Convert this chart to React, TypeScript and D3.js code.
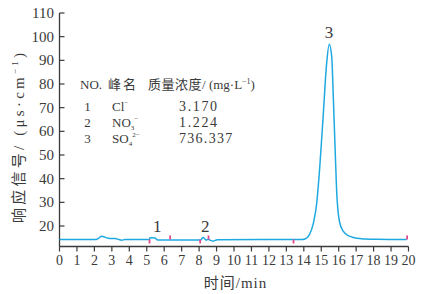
import React from "react";
import * as d3 from "d3";

const xTicks = d3.range(0, 21);
const yTicks = [20, 30, 40, 50, 60, 70, 80, 90, 100, 110];

const traceTime = [0, 2.1, 2.25, 2.42, 2.6, 2.8, 3.0, 3.2, 3.4, 3.56, 3.75, 5.15, 5.19, 5.3, 5.47, 5.62, 5.8, 8.1, 8.15, 8.24, 8.32, 8.4, 8.53, 8.65, 8.8, 9.04, 13.9, 14.07, 14.3, 14.55, 14.74, 14.93, 15.12, 15.31, 15.46, 15.6, 15.69, 15.79, 15.88, 16.04, 16.26, 16.46, 16.65, 17.03, 17.5, 18.2, 19.9];
const traceValue = [14.3, 14.3, 14.9, 15.7, 15.3, 14.8, 14.7, 14.7, 14.3, 14.0, 14.3, 14.3, 15.0, 15.0, 14.9, 14.1, 14.1, 14.1, 14.6, 15.1, 14.6, 14.0, 14.4, 13.9, 13.6, 14.2, 14.3, 14.5, 16.0, 21.2, 29.6, 46.5, 67.6, 88.8, 96.8, 91.5, 74.6, 53.5, 35.2, 22.0, 17.8, 16.3, 15.6, 14.8, 14.5, 14.35, 14.3];

const markerTimes = [5.16, 6.34, 8.06, 8.54, 13.41, 19.92];
const markerSides = ["below", "above", "below", "above", "below", "above"];

const peakLabels = ["1", "2", "3"];
const peakLabelTimes = [5.6, 8.35, 15.45];
const peakLabelValues = [15.0, 15.1, 96.8];

const tableNo = ["1", "2", "3"];
const tableIon = ["Cl", "NO", "SO"];
const tableSub = ["", "3", "4"];
const tableSup = ["−", "−", "2−"];
const tableConc = ["3.170", "1.224", "736.337"];

const LINE = "#1fa9e1";
const MARK = "#e5488c";
const AXIS = "#3a3a3a";
const TEXT = "#3a3a3a";
const SERIF = "'Liberation Serif', 'DejaVu Serif', serif";
const CJK = "'Noto Sans CJK SC', sans-serif";

export default function App() {
  const x = d3.scaleLinear().domain([0, 20]).range([59.5, 408.5]);
  const y = d3.scaleLinear().domain([20, 110]).range([226, 13]);
  const axisY = 246.5;
  const baseY = y(14.3);

  const line = d3
    .line<number>()
    .x((_, i) => x(traceTime[i]))
    .y((v) => y(v))
    .curve(d3.curveMonotoneX);

  return (
    <svg width={424} height={294} style={{ position: "absolute", left: 0, top: 0, background: "#fff" }}>
      {/* axes */}
      <line x1={x(0)} x2={x(0)} y1={y(110)} y2={axisY} stroke={AXIS} strokeWidth={1.3} />
      <line x1={x(0)} x2={x(20)} y1={axisY} y2={axisY} stroke={AXIS} strokeWidth={1.3} />
      {yTicks.map((t) => (
        <g key={"y" + t}>
          <line x1={x(0)} x2={x(0) + 5} y1={y(t)} y2={y(t)} stroke={AXIS} strokeWidth={1.2} />
          <text x={54} y={y(t) + 5} textAnchor="end" fontFamily={SERIF} fontSize={15} fill={TEXT}>
            {t}
          </text>
        </g>
      ))}
      {xTicks.map((t) => (
        <g key={"x" + t}>
          <line x1={x(t)} x2={x(t)} y1={axisY} y2={axisY + 5} stroke={AXIS} strokeWidth={1.2} />
          <text x={x(t)} y={264.5} textAnchor="middle" fontFamily={SERIF} fontSize={14} fill={TEXT}>
            {t}
          </text>
        </g>
      ))}
      {/* axis titles */}
      <text x={235.5} y={288} textAnchor="middle" fontSize={15} fill={TEXT} letterSpacing={1}>
        <tspan fontFamily={CJK}>时间</tspan>
        <tspan fontFamily={SERIF}>/min</tspan>
      </text>
      <text
        transform="translate(24,138) rotate(-90)"
        textAnchor="middle"
        fontSize={15}
        fill={TEXT}
        textLength={170}
        lengthAdjust="spacing"
      >
        <tspan fontFamily={CJK}>响应信号</tspan>
        <tspan fontFamily={SERIF}>/ (μs·cm</tspan>
        <tspan fontFamily={SERIF} fontSize={9} dy={-6}>−1</tspan>
        <tspan fontFamily={SERIF} dy={6}>)</tspan>
      </text>

      {/* trace */}
      <path d={line(traceValue) || ""} fill="none" stroke={LINE} strokeWidth={1.5} />

      {/* integration markers */}
      {markerTimes.map((t, i) => (
        <line
          key={"m" + i}
          x1={x(t)}
          x2={x(t)}
          y1={markerSides[i] === "below" ? baseY : baseY - 4}
          y2={markerSides[i] === "below" ? baseY + 4 : baseY}
          stroke={MARK}
          strokeWidth={1.8}
        />
      ))}

      {/* peak labels */}
      {peakLabels.map((p, i) => (
        <text
          key={"p" + i}
          x={x(peakLabelTimes[i])}
          y={y(peakLabelValues[i]) - 6}
          textAnchor="middle"
          fontFamily={SERIF}
          fontSize={17}
          fill={TEXT}
        >
          {p}
        </text>
      ))}

      {/* table */}
      <g fill={TEXT} fontSize={13}>
        <text x={80} y={89} fontFamily={SERIF}>NO.</text>
        <text x={108} y={89} fontFamily={CJK} letterSpacing={2}>峰名</text>
        <text x={148} y={89}>
          <tspan fontFamily={CJK} letterSpacing={0.5}>质量浓度</tspan>
          <tspan fontFamily={SERIF}>/ (mg·L</tspan>
          <tspan fontFamily={SERIF} fontSize={8} dy={-5}>−1</tspan>
          <tspan fontFamily={SERIF} dy={5}>)</tspan>
        </text>
        {tableNo.map((n, i) => {
          const yy = 111 + i * 16;
          return (
            <g key={"t" + i}>
              <text x={87.5} y={yy} textAnchor="middle" fontFamily={SERIF}>{n}</text>
              <text x={112} y={yy} fontFamily={SERIF}>
                {tableIon[i]}
                {tableSub[i] ? (
                  <tspan fontSize={7} dy={3}>{tableSub[i]}</tspan>
                ) : null}
                <tspan fontSize={7} dy={tableSub[i] ? -9 : -6}>{tableSup[i]}</tspan>
              </text>
              <text
                x={179}
                y={yy}
                fontFamily={SERIF}
                fontSize={14}
                textLength={tableConc[i].length * 7.6}
                lengthAdjust="spacing"
              >
                {tableConc[i]}
              </text>
            </g>
          );
        })}
      </g>
    </svg>
  );
}
